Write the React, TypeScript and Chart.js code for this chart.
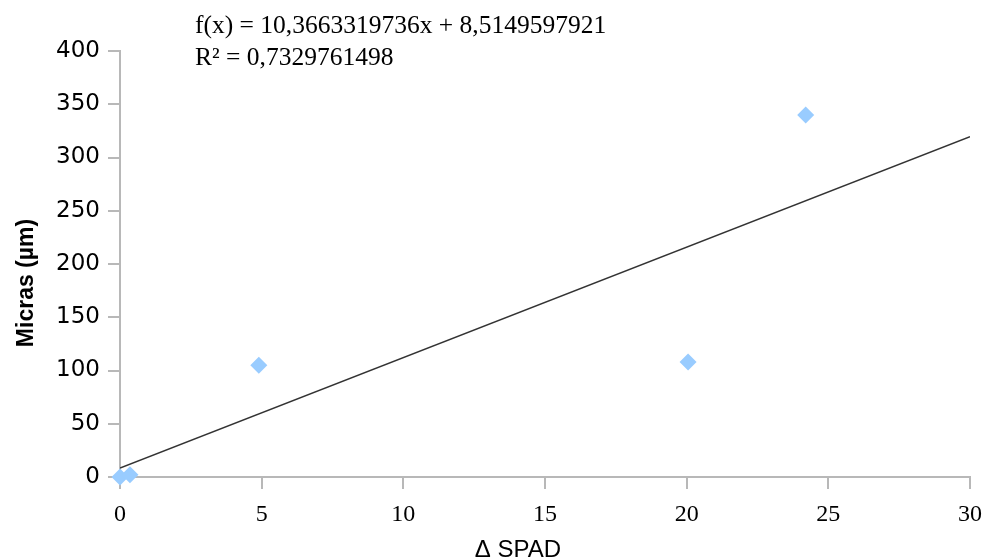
import React, { useEffect, useRef } from "react";
import { Chart, registerables } from "chart.js";

Chart.register(...registerables);

const spadValues = [0, 0.35, 4.9, 20.05, 24.2];
const micrasValues = [0, 2, 105, 108, 340];
const trendX = [0, 30];
const trendY = [8.515, 319.5];
const xTicks = [0, 5, 10, 15, 20, 25, 30];
const yTicks = [0, 50, 100, 150, 200, 250, 300, 350, 400];
const equationLines = ["f(x) = 10,3663319736x + 8,5149597921", "R² = 0,7329761498"];
const xTitle = "Δ SPAD";
const yTitle = "Micras (µm)";

const AXIS_GRAY = "#b8b8b8";

const textPlugin = {
  id: "textPlugin",
  afterDraw(chart: any) {
    const ctx = chart.ctx as CanvasRenderingContext2D;
    ctx.save();
    ctx.fillStyle = "#000";
    ctx.textAlign = "left";
    ctx.textBaseline = "alphabetic";
    ctx.font = "25.5px 'Liberation Serif'";
    ctx.fillText(equationLines[0], 195, 33);
    ctx.fillText(equationLines[1], 195, 65);

    ctx.font = "24px 'Liberation Sans'";
    ctx.textAlign = "center";
    ctx.fillText(xTitle, 518, 557);

    ctx.translate(33, 283);
    ctx.rotate(-Math.PI / 2);
    ctx.font = "bold 23px 'Liberation Sans'";
    ctx.fillText(yTitle, 0, 0);
    ctx.restore();
  },
};

export default function App() {
  const ref = useRef<HTMLCanvasElement>(null);
  useEffect(() => {
    if (!ref.current) return;
    const chart = new Chart(ref.current, {
      type: "scatter",
      data: {
        datasets: [
          {
            type: "scatter",
            data: spadValues.map((x, i) => ({ x, y: micrasValues[i] })),
            pointStyle: "rectRot",
            pointRadius: 8.5,
            backgroundColor: "#99ccff",
            borderWidth: 0,
            clip: false as any,
            order: 0,
          },
          {
            type: "line",
            data: trendX.map((x, i) => ({ x, y: trendY[i] })),
            borderColor: "#333333",
            borderWidth: 1.5,
            pointRadius: 0,
            showLine: true,
            fill: false,
            order: 1,
          } as any,
        ],
      },
      options: {
        animation: false,
        responsive: false,
        layout: { padding: { top: 51, right: 16, left: 0, bottom: 0 } },
        plugins: { legend: { display: false }, tooltip: { enabled: false } },
        scales: {
          x: {
            type: "linear",
            min: 0,
            max: 30,
            afterBuildTicks: (s: any) => {
              s.ticks = xTicks.map((v) => ({ value: v }));
            },
            afterFit: (s: any) => {
              s.height = 82;
              s.paddingLeft = 0;
              s.paddingRight = 0;
            },
            grid: { drawOnChartArea: false, tickLength: 12, color: AXIS_GRAY, lineWidth: 2 },
            border: { color: AXIS_GRAY, width: 2 },
            ticks: {
              padding: 11,
              color: "#000",
              font: { family: "'Liberation Serif'", size: 24 },
              maxRotation: 0,
            },
          },
          y: {
            type: "linear",
            min: 0,
            max: 400,
            afterBuildTicks: (s: any) => {
              s.ticks = yTicks.map((v) => ({ value: v }));
            },
            afterFit: (s: any) => {
              s.width = 120;
              s.paddingTop = 0;
              s.paddingBottom = 0;
            },
            grid: { drawOnChartArea: false, tickLength: 12, color: AXIS_GRAY, lineWidth: 2 },
            border: { color: AXIS_GRAY, width: 2 },
            ticks: {
              padding: 8,
              color: "#000",
              font: { family: "'DejaVu Sans'", size: 23 },
            },
          },
        },
      },
      plugins: [textPlugin],
    });
    return () => chart.destroy();
  }, []);
  return (
    <div style={{ position: "absolute", left: 0, top: 0, width: 986, height: 559, background: "#fff" }}>
      <canvas ref={ref} width={986} height={559} style={{ display: "block" }} />
    </div>
  );
}
